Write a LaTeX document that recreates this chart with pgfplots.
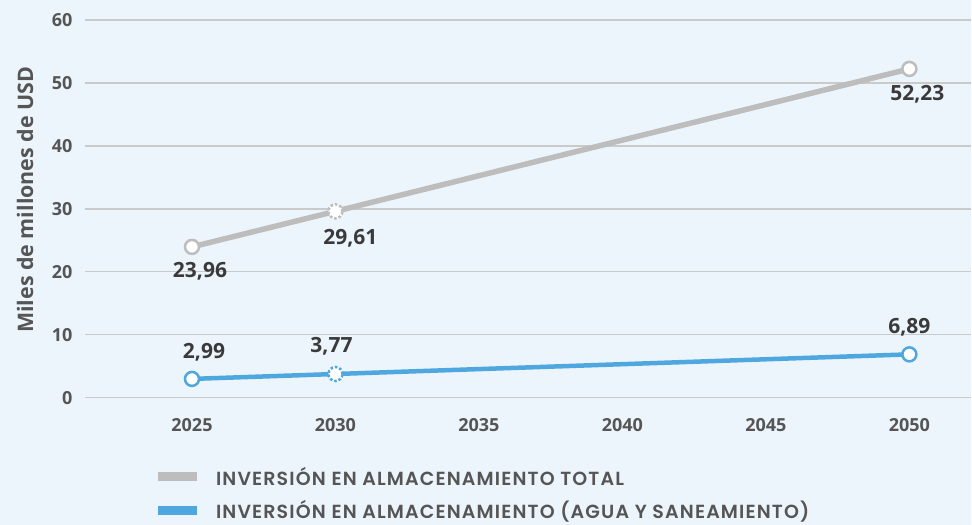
\documentclass[border=0pt]{standalone}
\usepackage{fontspec}
\setmainfont{Open Sans}
\newfontfamily\legfont{Poppins}[UprightFont=*-SemiBold, LetterSpace=6]
\usepackage{pgfplots}
\usepackage{pgfplotstable}
\pgfplotsset{compat=1.18}
\definecolor{bg}{HTML}{EDF5FC}
\definecolor{lgray}{HTML}{BDBDBD}
\definecolor{lblue}{HTML}{4EA8DF}
\definecolor{tgray}{HTML}{555555}
\definecolor{tdark}{HTML}{3A3A3A}
\definecolor{gridc}{HTML}{CACACA}
\definecolor{axc}{HTML}{8C8C8C}
\pgfplotstableread{
x y l
2025 23.96 {23,96}
2030 29.61 {29,61}
2050 52.23 {52,23}
}\totaltab
\pgfplotstableread{
x y l
2025 2.99 {2,99}
2030 3.77 {3,77}
2050 6.89 {6,89}
}\aguatab
\pgfplotsset{
  lbl/.style n args={2}{forget plot, draw=none, mark=none, nodes near coords, point meta=explicit symbolic,
    every node near coord/.append style={anchor=center, xshift=#1, yshift=#2,
      font=\fontsize{21}{24}\selectfont\bfseries, text=tdark}},
}
\begin{document}
\begin{tikzpicture}[x=1pt,y=1pt]
\fill[bg] (0,0) rectangle (972,-525);
\begin{axis}[
  at={(85pt,-398pt)}, anchor=south west,
  scale only axis, width=887pt, height=378pt,
  xmin=2021.27, xmax=2052.16, ymin=0, ymax=60,
  clip=false,
  axis line style={draw=none},
  tick style={draw=none},
  ymajorgrids, major grid style={gridc, line width=1.3pt},
  extra y ticks={0}, extra y tick labels={},
  extra y tick style={grid style={axc, line width=2pt}},
  ytick={0,10,...,60}, xtick={2025,2030,...,2050},
  /pgf/number format/assume math mode=true,
  /pgf/number format/1000 sep={},
  tick label style={font=\fontsize{18}{21}\selectfont\bfseries, text=tgray},
  yticklabel style={xshift=-9pt},
  xticklabel style={yshift=-17pt},
  ylabel={Miles de millones de USD},
  every axis y label/.style={at={(axis description cs:-0.0676,0.524)}, rotate=90, anchor=center,
    font=\fontsize{21.4}{24}\selectfont\bfseries, text=tgray},
  legend style={at={(axis description cs:0.0775,-0.172)}, anchor=north west, draw=none, fill=none,
    font=\legfont\fontsize{19}{22}\selectfont, text=tgray, row sep=10pt, cells={anchor=west},
    inner xsep=0pt},
  legend cell align=left,
  legend image code/.code={\draw[#1, line width=8.5pt] (0pt,0pt) -- (39pt,0pt); \path[draw=none] (56pt,0pt);},
]
\addplot[lgray, line width=5.5pt] table[x=x,y=y] {\totaltab};
\addlegendentry{INVERSIÓN EN ALMACENAMIENTO TOTAL}
\addplot[lblue, line width=4.5pt] table[x=x,y=y] {\aguatab};
\addlegendentry{INVERSIÓN EN ALMACENAMIENTO (AGUA Y SANEAMIENTO)}
% markers
\addplot[forget plot, only marks, mark=*, mark size=7pt, mark options={fill=white, draw=lgray, line width=2.5pt, solid}] coordinates {(2025,23.96) (2050,52.23)};
\addplot[forget plot, only marks, mark=*, mark size=7pt, mark options={fill=white, draw=lgray, line width=2.5pt, dotted}] coordinates {(2030,29.61)};
\addplot[forget plot, only marks, mark=*, mark size=7pt, mark options={fill=white, draw=lblue, line width=2.5pt, solid}] coordinates {(2025,2.99) (2050,6.89)};
\addplot[forget plot, only marks, mark=*, mark size=7pt, mark options={fill=white, draw=lblue, line width=2.5pt, dotted}] coordinates {(2030,3.77)};
% labels
\addplot[lbl={8pt}{-24pt}] coordinates {(2025,23.96) [{23,96}]};
\addplot[lbl={15pt}{-27pt}] coordinates {(2030,29.61) [{29,61}]};
\addplot[lbl={8pt}{-25pt}] coordinates {(2050,52.23) [{52,23}]};
\addplot[lbl={12pt}{27pt}] coordinates {(2025,2.99) [{2,99}]};
\addplot[lbl={-4pt}{28pt}] coordinates {(2030,3.77) [{3,77}]};
\addplot[lbl={0pt}{27pt}] coordinates {(2050,6.89) [{6,89}]};
\end{axis}
\end{tikzpicture}
\end{document}
